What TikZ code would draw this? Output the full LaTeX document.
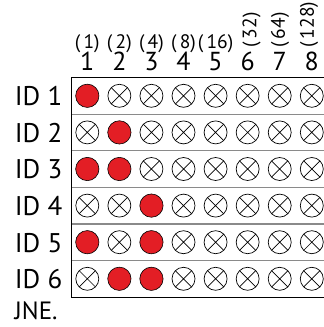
\documentclass[tikz,border=0pt]{standalone}
\usepackage{fontspec}
\setmainfont{PT Sans}
\definecolor{myred}{HTML}{E31E25}
\definecolor{sepgray}{HTML}{8A8A8A}
\begin{document}
\begin{tikzpicture}[x=1pt,y=1pt,
  crossc/.style={circle, draw, line width=0.7, minimum size=23, inner sep=0pt, fill=white,
    path picture={\draw[line width=0.7] (path picture bounding box.south west) -- (path picture bounding box.north east)
      (path picture bounding box.north west) -- (path picture bounding box.south east);}},
  redc/.style={circle, draw, line width=0.6, minimum size=23.3, inner sep=0pt, fill=myred},
  idlabel/.style={anchor=base east, inner sep=0pt, font=\fontsize{27}{27}\selectfont},
  colnum/.style={anchor=base, inner sep=0pt, font=\fontsize{26}{26}\selectfont},
  weight/.style={anchor=base, inner sep=0pt, font=\fontsize{19.5}{19.5}\selectfont},
  rweight/.style={anchor=west, rotate=90, inner sep=0pt, font=\fontsize{19.5}{19.5}\selectfont},
  border/.style={draw=black, line width=0.9},
  sep/.style={draw=sepgray, line width=1.2}
]
\useasboundingbox (0,0) rectangle (324,-327);
\def\xl{71.7}
\def\top{77.5}
\def\rh{36.6}
\def\cw{32.07}
% separators
\foreach \r in {1,...,5}{
  \draw[sep] (\xl,-\top-\r*\rh) -- (324,-\top-\r*\rh);
}
% border
\draw[border] (324,-\top) -- (\xl,-\top) -- (\xl,-\top-6*\rh) -- (324,-\top-6*\rh);
% column headers
\foreach \c/\w in {1/1,2/2,3/4,4/8,5/16}{
  \node[colnum] (n\c) at ({87.3+(\c-1)*\cw},-70.5) {\c};
  \node[weight] (w\c) at ({87.3+(\c-1)*\cw},-48) {(\,\w)};
}
\foreach \c in {6,7,8}{
  \node[colnum] (n\c) at ({87.3+(\c-1)*\cw},-70.5) {\c};
}
\node[rweight] (w6) at (251.5,-48) {(\,32)};
\node[rweight] (w7) at (280,-48) {(\,64)};
\node[rweight] (w8) at (309,-48) {(\,128)};
% rows
\foreach \r in {1,...,6}{
  \node[idlabel] (id\r) at (62.5,{-\top-(\r-0.5)*\rh-9.8}) {ID \r};
  \foreach \c in {1,...,8}{
    \pgfmathtruncatemacro{\bit}{mod(floor(\r/(2^(\c-1))),2)}
    \ifnum\bit=1
      \node[redc] (c\r-\c) at ({87.3+(\c-1)*\cw},{-\top-(\r-0.5)*\rh}) {};
    \else
      \node[crossc] (c\r-\c) at ({87.3+(\c-1)*\cw},{-\top-(\r-0.5)*\rh}) {};
    \fi
  }
}
\node[anchor=base west, inner sep=0pt, text depth=0pt, font=\fontsize{25}{25}\selectfont] (jne) at (14.5,-319.5) {JNE.};
\end{tikzpicture}
\end{document}
